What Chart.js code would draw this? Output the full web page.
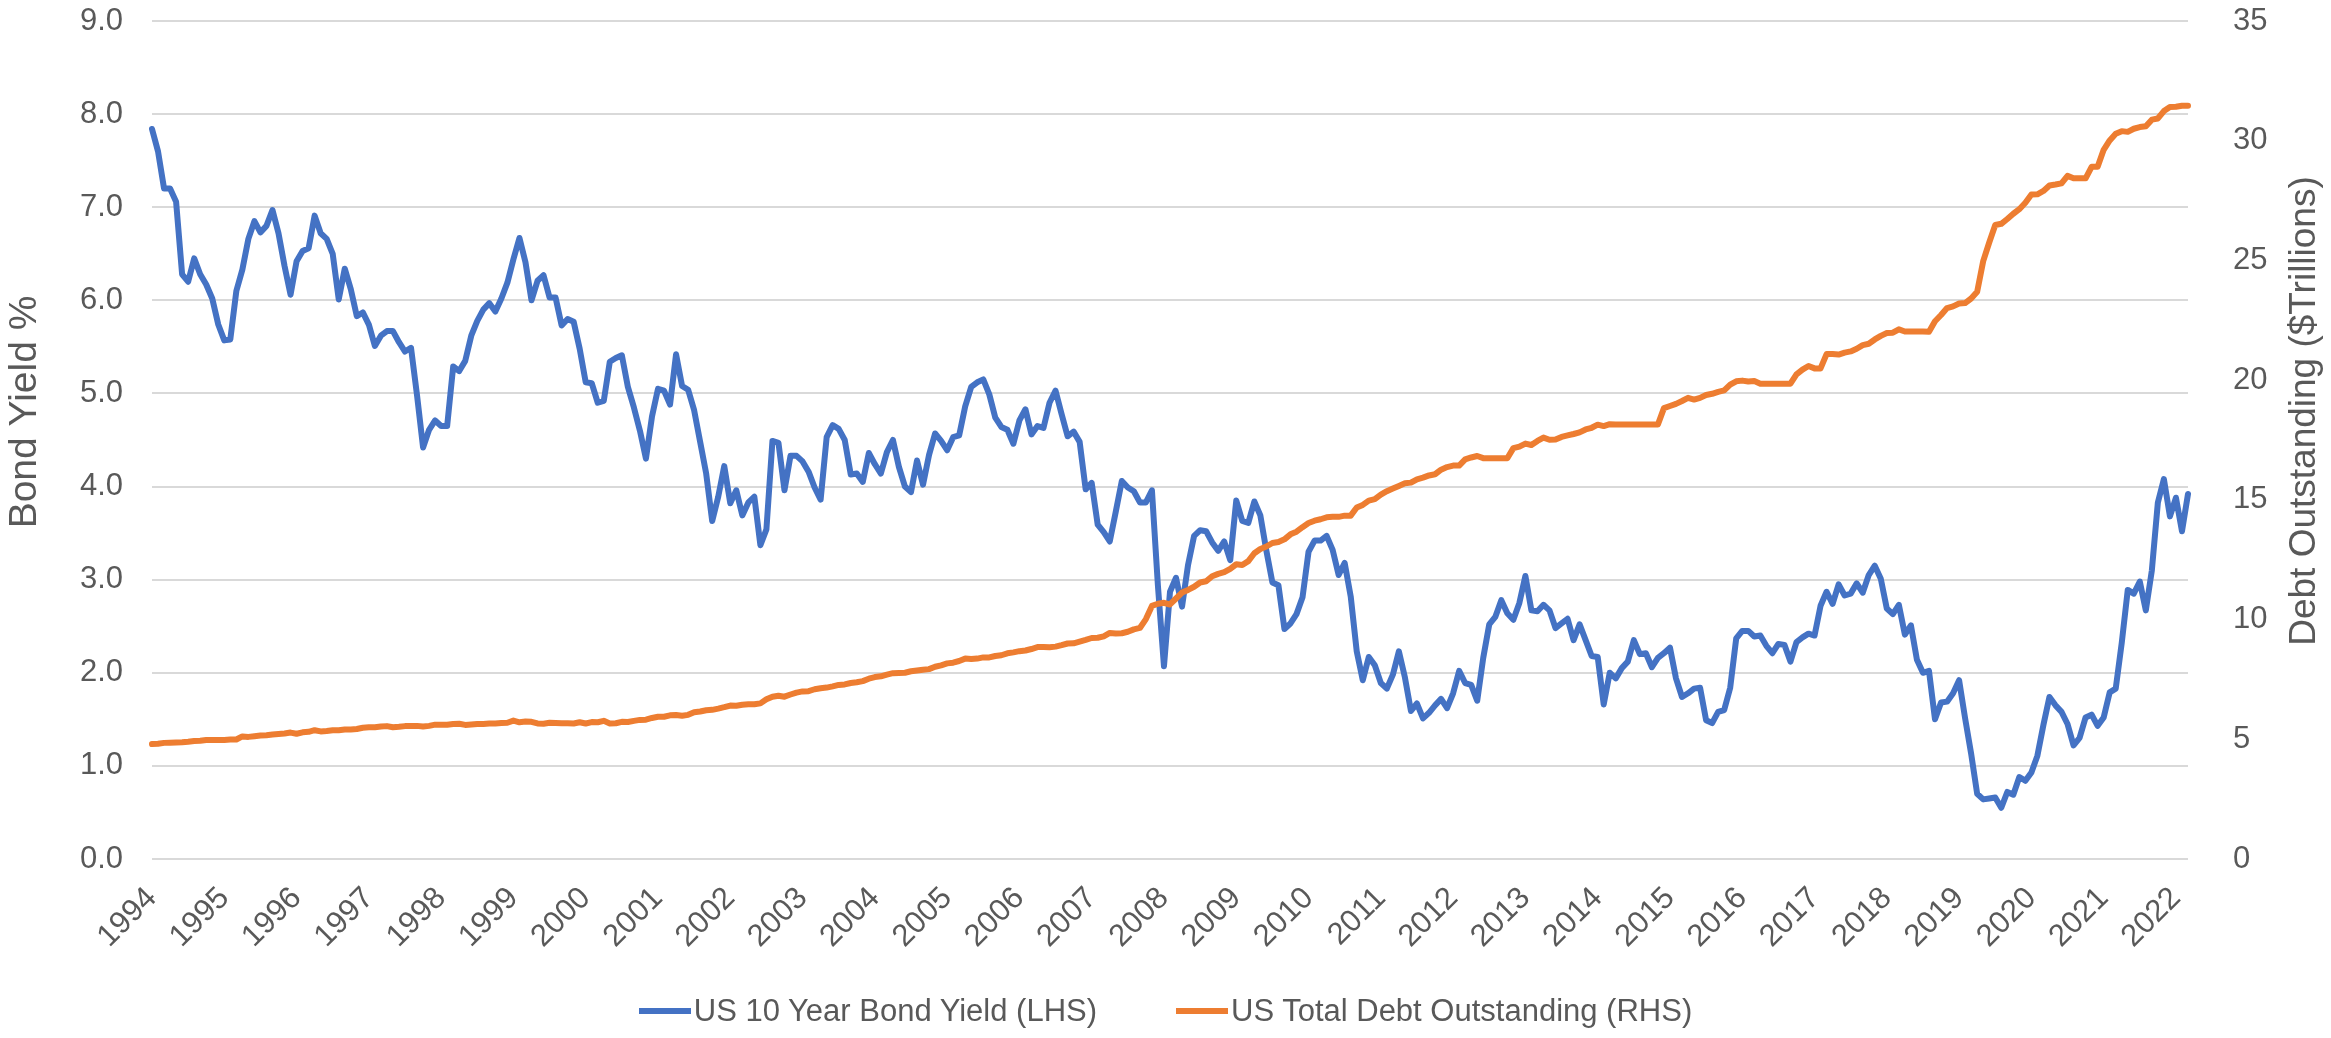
<!DOCTYPE html>
<html>
<head>
<meta charset="utf-8">
<script src="https://cdn.jsdelivr.net/npm/chart.js@4.4.0/dist/chart.umd.min.js"></script>
<style>
  html, body { margin: 0; padding: 0; background: #fff; overflow: hidden; }
  #wrap { position: relative; width: 2331px; height: 1038px; }
  #legend { position: absolute; left: 0; top: 993px; width: 2331px; display: flex; justify-content: center;
            align-items: center; font: 31px 'Liberation Sans', Arial, sans-serif; line-height: 36px; color: #595959; }
  .item { display: flex; align-items: center; }
  .item + .item { margin-left: 79px; }
  .swatch { width: 52px; height: 6px; margin-right: 3px; }
</style>
</head>
<body>
<div id="wrap">
  <canvas id="chart" width="2331" height="1038"></canvas>
  <div id="legend"></div>
</div>
<script>
const yearTicks = ['1994', '1995', '1996', '1997', '1998', '1999', '2000', '2001', '2002', '2003',
  '2004', '2005', '2006', '2007', '2008', '2009', '2010', '2011', '2012', '2013', '2014', '2015',
  '2016', '2017', '2018', '2019', '2020', '2021', '2022']

const seriesNames = ['US 10 Year Bond Yield (LHS)', 'US Total Debt Outstanding (RHS)']
const seriesColors = ['#4472C4', '#ED7D31']
const leftTitle = 'Bond Yield %'
const rightTitle = 'Debt Outstanding ($Trillions)'

// month-end values, Dec 1994 .. Feb 2023
const yieldPct = [7.84,
  7.60, 7.20, 7.20, 7.06, 6.28, 6.20, 6.45, 6.28, 6.17, 6.02, 5.74, 5.57,
  5.58, 6.10, 6.33, 6.66, 6.85, 6.73, 6.80, 6.97, 6.72, 6.37, 6.06, 6.42,
  6.53, 6.56, 6.91, 6.72, 6.66, 6.50, 6.01, 6.34, 6.12, 5.83, 5.87, 5.74,
  5.51, 5.62, 5.67, 5.67, 5.55, 5.45, 5.49, 4.98, 4.42, 4.61, 4.71, 4.65,
  4.65, 5.29, 5.24, 5.35, 5.62, 5.78, 5.90, 5.97, 5.88, 6.02, 6.19, 6.44,
  6.67, 6.41, 6.00, 6.21, 6.27, 6.03, 6.03, 5.73, 5.80, 5.77, 5.48, 5.12,
  5.11, 4.90, 4.92, 5.34, 5.38, 5.41, 5.07, 4.85, 4.60, 4.30, 4.75, 5.05,
  5.03, 4.88, 5.42, 5.08, 5.04, 4.82, 4.48, 4.14, 3.63, 3.89, 4.22, 3.82,
  3.96, 3.69, 3.83, 3.89, 3.37, 3.54, 4.49, 4.47, 3.96, 4.33, 4.33, 4.27,
  4.16, 3.99, 3.86, 4.53, 4.66, 4.62, 4.50, 4.13, 4.14, 4.05, 4.36, 4.24,
  4.14, 4.37, 4.50, 4.21, 4.00, 3.94, 4.28, 4.02, 4.34, 4.57, 4.49, 4.39,
  4.53, 4.55, 4.86, 5.07, 5.12, 5.15, 4.99, 4.74, 4.64, 4.61, 4.46, 4.71,
  4.83, 4.56, 4.65, 4.63, 4.90, 5.03, 4.78, 4.54, 4.59, 4.48, 3.97, 4.04,
  3.59, 3.51, 3.41, 3.73, 4.06, 3.99, 3.95, 3.83, 3.83, 3.96, 2.93, 2.07,
  2.87, 3.02, 2.71, 3.16, 3.47, 3.53, 3.52, 3.40, 3.31, 3.41, 3.21, 3.85,
  3.63, 3.61, 3.84, 3.69, 3.31, 2.97, 2.94, 2.47, 2.53, 2.63, 2.81, 3.30,
  3.42, 3.42, 3.47, 3.32, 3.05, 3.18, 2.82, 2.23, 1.92, 2.17, 2.08, 1.89,
  1.83, 1.98, 2.23, 1.95, 1.59, 1.67, 1.51, 1.57, 1.65, 1.72, 1.62, 1.78,
  2.02, 1.89, 1.87, 1.70, 2.16, 2.52, 2.60, 2.78, 2.64, 2.57, 2.75, 3.04,
  2.67, 2.66, 2.73, 2.67, 2.48, 2.53, 2.58, 2.35, 2.52, 2.35, 2.18, 2.17,
  1.66, 2.00, 1.94, 2.05, 2.12, 2.35, 2.20, 2.21, 2.06, 2.16, 2.21, 2.27,
  1.94, 1.74, 1.78, 1.83, 1.84, 1.49, 1.46, 1.58, 1.60, 1.84, 2.37, 2.45,
  2.45, 2.39, 2.40, 2.29, 2.21, 2.31, 2.30, 2.12, 2.33, 2.38, 2.42, 2.40,
  2.72, 2.87, 2.74, 2.95, 2.83, 2.85, 2.96, 2.86, 3.05, 3.15, 3.01, 2.69,
  2.63, 2.73, 2.41, 2.51, 2.14, 2.00, 2.02, 1.50, 1.68, 1.69, 1.78, 1.92,
  1.51, 1.13, 0.70, 0.64, 0.65, 0.66, 0.55, 0.72, 0.69, 0.88, 0.84, 0.93,
  1.11, 1.44, 1.74, 1.65, 1.58, 1.45, 1.22, 1.30, 1.52, 1.55, 1.43, 1.52,
  1.79, 1.83, 2.32, 2.89, 2.85, 2.98, 2.67, 3.10, 3.83, 4.08, 3.68, 3.88,
  3.52, 3.92]

const debtTn = [4.80,
  4.81, 4.85, 4.86, 4.87, 4.88, 4.90, 4.93, 4.94, 4.97, 4.97, 4.97, 4.97,
  4.99, 4.99, 5.12, 5.10, 5.13, 5.16, 5.17, 5.20, 5.22, 5.24, 5.28, 5.23,
  5.29, 5.31, 5.38, 5.33, 5.35, 5.38, 5.38, 5.41, 5.41, 5.43, 5.48, 5.50,
  5.50, 5.53, 5.55, 5.50, 5.52, 5.55, 5.55, 5.56, 5.53, 5.56, 5.61, 5.61,
  5.61, 5.64, 5.65, 5.60, 5.62, 5.64, 5.64, 5.66, 5.66, 5.68, 5.69, 5.78,
  5.71, 5.74, 5.73, 5.66, 5.65, 5.69, 5.68, 5.67, 5.67, 5.66, 5.71, 5.66,
  5.72, 5.71, 5.77, 5.66, 5.67, 5.73, 5.72, 5.77, 5.81, 5.82, 5.89, 5.94,
  5.94, 6.00, 6.01, 5.98, 6.02, 6.13, 6.16, 6.21, 6.23, 6.28, 6.34, 6.41,
  6.40, 6.44, 6.46, 6.46, 6.50, 6.67, 6.78, 6.82, 6.78, 6.87, 6.95, 7.00,
  7.01, 7.09, 7.13, 7.16, 7.21, 7.27, 7.29, 7.35, 7.38, 7.43, 7.53, 7.60,
  7.63, 7.70, 7.76, 7.77, 7.78, 7.84, 7.87, 7.90, 7.93, 8.03, 8.09, 8.17,
  8.20, 8.27, 8.37, 8.35, 8.37, 8.42, 8.42, 8.48, 8.51, 8.59, 8.63, 8.68,
  8.71, 8.77, 8.85, 8.85, 8.84, 8.87, 8.93, 9.00, 9.01, 9.08, 9.15, 9.23,
  9.24, 9.30, 9.44, 9.42, 9.43, 9.49, 9.59, 9.65, 10.02, 10.57, 10.66, 10.70,
  10.63, 10.88, 11.13, 11.24, 11.37, 11.55, 11.60, 11.81, 11.91, 11.98, 12.12, 12.31,
  12.28, 12.44, 12.77, 12.95, 13.05, 13.20, 13.24, 13.35, 13.56, 13.67, 13.86, 14.03,
  14.13, 14.19, 14.27, 14.29, 14.29, 14.34, 14.34, 14.68, 14.79, 14.97, 15.03, 15.22,
  15.36, 15.47, 15.58, 15.69, 15.72, 15.86, 15.93, 16.02, 16.07, 16.26, 16.37, 16.43,
  16.43, 16.69, 16.77, 16.83, 16.74, 16.74, 16.74, 16.74, 16.74, 17.16, 17.22, 17.35,
  17.29, 17.46, 17.60, 17.51, 17.52, 17.63, 17.69, 17.75, 17.82, 17.94, 18.01, 18.14,
  18.08, 18.16, 18.15, 18.15, 18.15, 18.15, 18.15, 18.15, 18.15, 18.15, 18.83, 18.92,
  19.01, 19.13, 19.26, 19.19, 19.26, 19.38, 19.43, 19.51, 19.57, 19.81, 19.95, 19.98,
  19.94, 19.96, 19.85, 19.85, 19.85, 19.85, 19.85, 19.85, 20.24, 20.44, 20.59, 20.49,
  20.49, 21.09, 21.09, 21.07, 21.15, 21.20, 21.31, 21.46, 21.52, 21.70, 21.85, 21.97,
  21.98, 22.12, 22.03, 22.03, 22.03, 22.03, 22.02, 22.46, 22.72, 23.01, 23.08, 23.20,
  23.22, 23.41, 23.69, 24.97, 25.75, 26.48, 26.53, 26.73, 26.95, 27.14, 27.41, 27.75,
  27.76, 27.90, 28.13, 28.17, 28.22, 28.53, 28.43, 28.43, 28.43, 28.91, 28.91, 29.62,
  30.01, 30.29, 30.40, 30.37, 30.50, 30.57, 30.60, 30.88, 30.93, 31.24, 31.41, 31.42,
  31.46, 31.46]

const monthNames = ['Jan', 'Feb', 'Mar', 'Apr', 'May', 'Jun', 'Jul', 'Aug', 'Sep', 'Oct', 'Nov', 'Dec']
const months = yieldPct.map((v, i) => monthNames[(i + 11) % 12] + ' ' + (1994 + Math.floor((i + 11) / 12)))

const font = { family: "'Liberation Sans', Arial, sans-serif", size: 31 }
const textColor = '#595959'
const clear = 'rgba(0,0,0,0)'

const legend = document.getElementById('legend')
seriesNames.forEach((name, i) => {
  const item = document.createElement('div')
  item.className = 'item'
  item.innerHTML = `<span class="swatch" style="background:${seriesColors[i]}"></span><span>${name}</span>`
  legend.appendChild(item)
})

// both axis titles read bottom-to-top, so they are drawn here
const axisTitles = {
  id: 'axisTitles',
  afterDraw (chart) {
    const c = chart.ctx
    c.save()
    c.fillStyle = textColor
    c.textAlign = 'center'
    c.textBaseline = 'middle'
    const titles = [[25, 412, 39, leftTitle], [2305, 411, 37, rightTitle]]
    titles.forEach(([x, y, size, t]) => {
      c.save()
      c.font = `${size}px ${font.family}`
      c.translate(x, y)
      c.rotate(-Math.PI / 2)
      c.fillText(t, 0, 0)
      c.restore()
    })
    c.restore()
  }
}

new Chart(document.getElementById('chart'), {
  type: 'line',
  data: {
    labels: months,
    datasets: [
      { label: seriesNames[0], data: yieldPct, borderColor: seriesColors[0], yAxisID: 'y', order: 2 },
      { label: seriesNames[1], data: debtTn, borderColor: seriesColors[1], yAxisID: 'y1', order: 1 }
    ]
  },
  options: {
    responsive: false,
    animation: false,
    devicePixelRatio: 1,
    layout: { padding: { top: 21, left: 0, right: 0, bottom: 0 } },
    elements: {
      point: { radius: 0 },
      line: { tension: 0, borderWidth: 6, borderJoinStyle: 'round', borderCapStyle: 'round' }
    },
    plugins: { legend: { display: false }, tooltip: { enabled: false } },
    scales: {
      x: {
        grid: { display: false },
        border: { display: false },
        ticks: {
          autoSkip: false,
          minRotation: 45,
          maxRotation: 45,
          padding: 13,
          color: textColor,
          font: font,
          callback: (v, i) => i % 12 === 0 ? yearTicks[i / 12] : null
        },
        afterFit: s => { s.height = 179 }
      },
      y: {
        position: 'left',
        min: 0,
        max: 9,
        grid: { color: '#d9d9d9', lineWidth: 2, tickLength: 29, tickColor: clear },
        border: { display: false },
        ticks: { stepSize: 1, padding: 0, color: textColor, font: font, callback: v => v.toFixed(1) },
        afterFit: s => { s.width = 152 }
      },
      y1: {
        position: 'right',
        min: 0,
        max: 35,
        grid: { drawOnChartArea: false, color: clear, tickLength: 45, tickColor: clear },
        border: { display: false },
        ticks: { stepSize: 5, padding: 0, color: textColor, font: font },
        afterFit: s => { s.width = 143 }
      }
    }
  },
  plugins: [axisTitles]
})
</script>
</body>
</html>
